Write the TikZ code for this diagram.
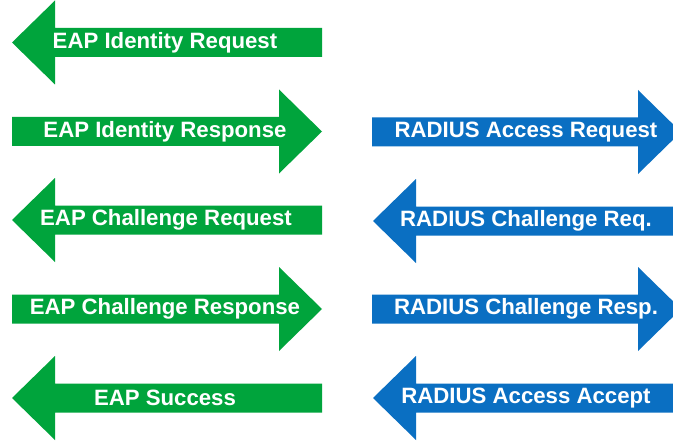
\documentclass[tikz,border=0pt]{standalone}
\usepackage{fontspec}
\setmainfont{Liberation Sans}
\definecolor{eapgreen}{HTML}{00A43C}
\definecolor{radblue}{HTML}{0A6FC2}
% left-pointing arrow: colour, tip x, tail x, centre y
\newcommand\ArrowLeft[4]{\fill[#1] (#2,#4) -- ({#2+43},{#4-42}) -- ({#2+43},{#4-14.5}) -- (#3,{#4-14.5}) -- (#3,{#4+14.5}) -- ({#2+43},{#4+14.5}) -- ({#2+43},{#4+42}) -- cycle;}
% right-pointing arrow: colour, tail x, tip x, centre y
\newcommand\ArrowRight[4]{\fill[#1] (#2,{#4-14.5}) -- ({#3-43},{#4-14.5}) -- ({#3-43},{#4-42}) -- (#3,#4) -- ({#3-43},{#4+42}) -- ({#3-43},{#4+14.5}) -- (#2,{#4+14.5}) -- cycle;}
\begin{document}
\begin{tikzpicture}[x=1pt,y=-1pt,
  lbl/.style={text=white,font=\fontsize{22.2}{25}\selectfont\bfseries,inner sep=0pt,anchor=center}]
\useasboundingbox (0,0) rectangle (673,444);
\clip (0,0) rectangle (673,444);
\fill[white] (0,0) rectangle (673,444);
% green (EAP) arrows
\ArrowLeft{eapgreen}{12}{322}{42.5}
\ArrowRight{eapgreen}{12}{322}{131.5}
\ArrowLeft{eapgreen}{12}{322}{220}
\ArrowRight{eapgreen}{12}{322}{309}
\ArrowLeft{eapgreen}{12}{322}{398}
% blue (RADIUS) arrows
\ArrowRight{radblue}{372}{681}{132}
\ArrowLeft{radblue}{373}{700}{221}
\ArrowRight{radblue}{372}{681}{309}
\ArrowLeft{radblue}{373}{700}{398}
% labels
\node[lbl] (e1) at (165,42.5) {EAP Identity Request};
\node[lbl] (e2) at (165,131.5) {EAP Identity Response};
\node[lbl] (e3) at (166,220) {EAP Challenge Request};
\node[lbl] (e4) at (165,309) {EAP Challenge Response};
\node[lbl] (e5) at (165,398) {EAP Success};
\node[lbl] (r1) at (526,132) {RADIUS Access Request};
\node[lbl] (r2) at (526,221) {RADIUS Challenge Req.};
\node[lbl] (r3) at (526,309) {RADIUS Challenge Resp.};
\node[lbl] (r4) at (526,398) {RADIUS Access Accept};
\end{tikzpicture}
\end{document}
